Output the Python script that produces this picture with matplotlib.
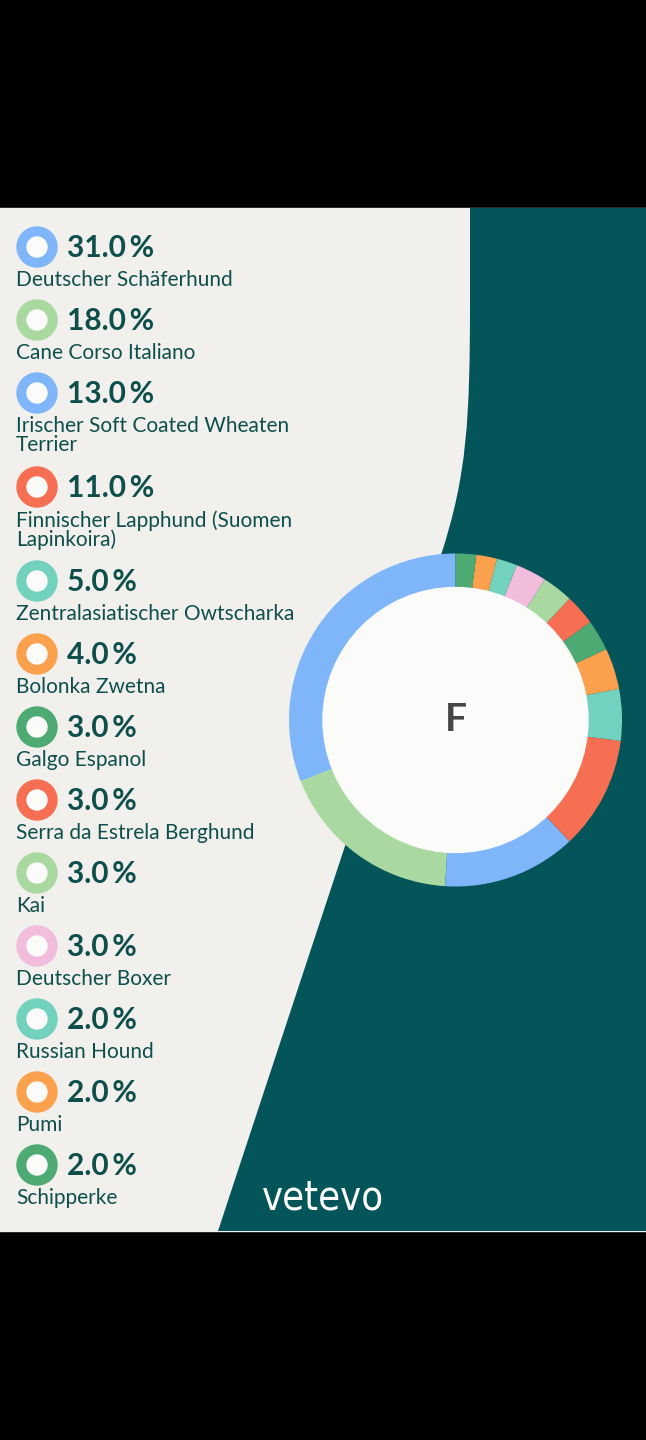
import matplotlib.pyplot as plt
from matplotlib.patches import Circle, Rectangle, PathPatch
from matplotlib.path import Path

breeds = ['Deutscher Schäferhund', 'Cane Corso Italiano',
          'Irischer Soft Coated Wheaten\nTerrier',
          'Finnischer Lapphund (Suomen\nLapinkoira)',
          'Zentralasiatischer Owtscharka', 'Bolonka Zwetna', 'Galgo Espanol',
          'Serra da Estrela Berghund', 'Kai', 'Deutscher Boxer',
          'Russian Hound', 'Pumi', 'Schipperke']
shares = [31.0, 18.0, 13.0, 11.0, 5.0, 4.0, 3.0, 3.0, 3.0, 3.0, 2.0, 2.0, 2.0]
colors = ['#7fb5f9', '#a9d8a1', '#7fb5f9', '#f76f52', '#72d2bd', '#fba14d',
          '#4caa72', '#f76f52', '#a9d8a1', '#f2bddc', '#72d2bd', '#fba14d',
          '#4caa72']
center_label = 'F'

W, H = 646, 1440
TOP, BOT = 208, 1231
GREY = '#f1f0ed'
TEAL = '#04555a'
TXT = '#0e4f4c'

fig = plt.figure(figsize=(W / 100, H / 100), dpi=100)
fig.patch.set_facecolor('black')
ax = fig.add_axes([0, 0, 1, 1])
ax.set_xlim(0, W)
ax.set_ylim(H, 0)
ax.axis('off')

# background panels
ax.add_patch(Rectangle((0, TOP), W, BOT - TOP, color=GREY, zorder=0))
verts = [(W, TOP), (470, TOP), (470, 300),
         (470, 420), (467, 475), (441, 555),
         (218, BOT), (W, BOT), (W, TOP)]
codes = [Path.MOVETO, Path.LINETO, Path.LINETO,
         Path.CURVE4, Path.CURVE4, Path.CURVE4,
         Path.LINETO, Path.LINETO, Path.CLOSEPOLY]
ax.add_patch(PathPatch(Path(verts, codes), facecolor=TEAL, edgecolor='none', zorder=1))

# legend
y = 247
for name, val, col in zip(breeds, shares, colors):
    ax.add_patch(Circle((37, y), 20, color=col, zorder=3))
    ax.add_patch(Circle((37, y), 10, color='#fbfbf9', zorder=4))
    ax.text(67, y + 1, f'{val:.1f}\u2009%', fontsize=21.5, fontweight='bold',
            family=['Lato', 'DejaVu Sans'], color=TXT, va='center', ha='left', zorder=5)
    ax.text(16, y + 23, name, fontsize=15, family=['Lato', 'DejaVu Sans'],
            color=TXT, va='top', ha='left', linespacing=0.92, zorder=5)
    y += 73 + 21 * name.count('\n')

# logo
ax.text(262, 1198, 'vetevo', fontsize=28.5, color='white', fontstretch='condensed',
        family=['DejaVu Sans'], va='center', ha='left', zorder=5)

# donut
cx, cy, r = 455.5, 720, 166.5
pax = fig.add_axes([(cx - r) / W, (H - cy - r) / H, 2 * r / W, 2 * r / H])
pax.pie(shares, colors=colors, startangle=90, counterclock=True, radius=1,
        wedgeprops=dict(width=34 / r, edgecolor='none', linewidth=0))
pax.add_patch(Circle((0, 0), 1 - 34 / r, color='#fbfbf9'))
pax.text(0, 0, center_label, fontsize=28, fontweight='bold', color='#454545',
         family=['Lato', 'DejaVu Sans'], ha='center', va='center')
pax.set_xlim(-1, 1)
pax.set_ylim(-1, 1)
pax.axis('off')

fig.savefig('out.png', dpi=100, facecolor='black')
